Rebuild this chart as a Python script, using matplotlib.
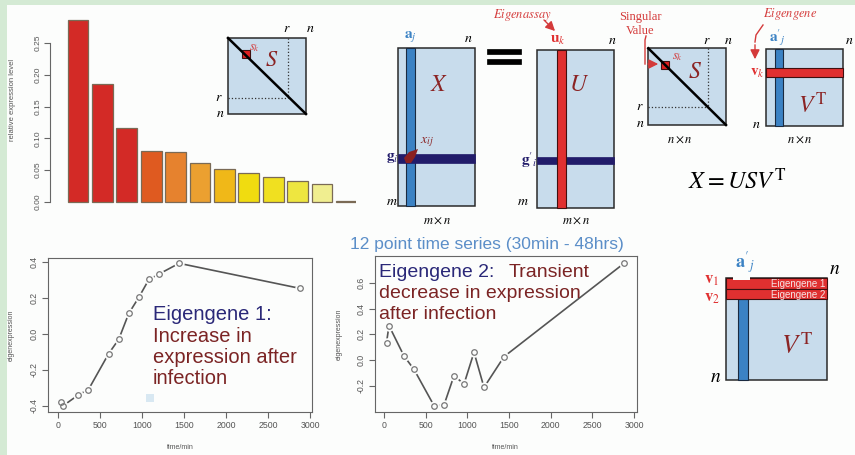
import matplotlib.pyplot as plt
from matplotlib.patches import Rectangle, Polygon

plt.rcParams['mathtext.fontset'] = 'stix'
plt.rcParams['font.family'] = ['Liberation Sans', 'DejaVu Sans']

# singular value spectrum (relative expression level of each eigengene)
bar_vals = [0.287, 0.185, 0.117, 0.080, 0.078, 0.061, 0.051, 0.046, 0.039, 0.033, 0.028, 0.001]
bar_colors = ['#d32a26', '#d32a26', '#d32a26', '#df5a20', '#e6822e', '#eba030',
              '#f0b818', '#f0dc10', '#f0e020', '#eee640', '#f0ee90', '#f4f0c0']
bar_ticks = [0.00, 0.05, 0.10, 0.15, 0.20, 0.25]

# 12 point time series, minutes
times = [30, 60, 240, 360, 600, 720, 840, 960, 1080, 1200, 1440, 2880]
eig1 = [-0.38, -0.40, -0.34, -0.31, -0.11, -0.03, 0.115, 0.205, 0.305, 0.335, 0.395, 0.255]
eig2 = [0.135, 0.267, 0.031, -0.073, -0.355, -0.350, -0.122, -0.187, 0.060, -0.213, 0.026, 0.752]
x_ticks = [0, 500, 1000, 1500, 2000, 2500, 3000]
y1_ticks = [-0.4, -0.2, 0.0, 0.2, 0.4]
y2_ticks = [-0.2, 0.0, 0.2, 0.4, 0.6]

W, H = 855, 455
BG = '#fcfdfc'
fig = plt.figure(figsize=(8.55, 4.55), dpi=100)
fig.patch.set_facecolor(BG)


def px_axes(x0, y0, x1, y1):
    return fig.add_axes([x0 / W, 1 - y1 / H, (x1 - x0) / W, (y1 - y0) / H])


GRAY = '#666666'
LBL = '#555555'

# ---- bar chart
ax0 = px_axes(50, 10, 356, 208)
ax0.patch.set_alpha(0)
ax0.bar(range(len(bar_vals)), bar_vals, width=0.85, color=bar_colors,
        edgecolor='#7a6a55', linewidth=0.9)
ax0.set_xlim(-1.148, 11.39)
ax0.set_ylim(-0.0099, 0.3024)
for s in ['top', 'right', 'bottom']:
    ax0.spines[s].set_visible(False)
ax0.spines['left'].set_bounds(0, 0.25)
ax0.spines['left'].set_color(GRAY)
ax0.set_xticks([])
ax0.set_yticks(bar_ticks)
ax0.set_yticklabels(['%.2f' % v for v in bar_ticks], rotation=90, va='center')
ax0.tick_params(axis='y', length=4, color=GRAY, labelcolor=LBL, labelsize=6, pad=2)
ax0.set_ylabel('relative expression level', fontsize=5.5, color=LBL)
ax0.yaxis.set_label_coords((16 - 50) / 306, 0.545)


def line_plot(ax, y, yt, xlim, ylim, box, yl_px):
    x0, y0, x1, y1 = box
    ax.patch.set_alpha(0)
    ax.plot(times, y, color='#555555', lw=1.2)
    ax.plot(times, y, 'o', ms=6.5, mfc=BG, mec=BG)
    ax.plot(times, y, 'o', ms=4, mfc='none', mec='#777777', mew=0.9)
    ax.set_xlim(*xlim)
    ax.set_ylim(*ylim)
    ax.set_xticks(x_ticks)
    ax.set_yticks(yt)
    ax.set_yticklabels(['%.1f' % v for v in yt], rotation=90, va='center')
    ax.tick_params(length=4, color=GRAY, labelcolor=LBL, labelsize=6.3, pad=3)
    for s in ax.spines.values():
        s.set_color(GRAY)
    ax.set_xlabel('time/min', fontsize=5, color=LBL)
    ax.xaxis.set_label_coords(0.5, (y1 - 444) / (y1 - y0))
    ax.set_ylabel('eigenexpression', fontsize=5, color=LBL)
    ax.yaxis.set_label_coords((yl_px - x0) / (x1 - x0), 0.5)


box1 = (48.3, 258.3, 311.7, 411.7)
ax1 = px_axes(*box1)
line_plot(ax1, eig1, y1_ticks, (-119, 3020), (-0.434, 0.423), box1, 15)
box2 = (375, 256, 636.7, 411.7)
ax2 = px_axes(*box2)
line_plot(ax2, eig2, y2_ticks, (-108, 3032), (-0.402, 0.809), box2, 343)

# ---- overlay for the SVD diagrams and annotations (pixel coordinates)
ov = fig.add_axes([0, 0, 1, 1])
ov.set_zorder(10)
ov.patch.set_alpha(0)
ov.set_xlim(0, W)
ov.set_ylim(H, 0)
ov.axis('off')

GREEN = '#d4ead4'
ov.add_patch(Rectangle((0, 0), 7, H, fc=GREEN, ec='none'))
ov.add_patch(Rectangle((0, 0), W, 4.5, fc=GREEN, ec='none'))

FILL = '#c8dcec'
EDGE = '#2a2a2a'
BLUE = '#3b82c4'
NAVY = '#221c6a'
RED = '#e03030'
DRED = '#8b2424'
TRED = '#d43a3a'


def rect(x0, y0, x1, y1, fc, ec=EDGE, lw=1.1):
    ov.add_patch(Rectangle((x0, y0), x1 - x0, y1 - y0, fc=fc, ec=ec, lw=lw))


def t(x, y, s, size=10, color='black', **kw):
    ov.text(x, y, s, fontsize=size, color=color, ha=kw.pop('ha', 'center'),
            va=kw.pop('va', 'center'), **kw)


def smat(x0, y0, x1, y1, rx, ry, sq):
    rect(x0, y0, x1, y1, FILL)
    ov.plot([rx, rx], [y0, ry], ':', color='#333333', lw=0.9)
    ov.plot([x0, rx], [ry, ry], ':', color='#333333', lw=0.9)
    ov.plot([x0, x1], [y0, y1], color='black', lw=1.8)
    rect(sq[0] - 4, sq[1] - 4, sq[0] + 4, sq[1] + 4, '#e02020', ec='#401010', lw=0.8)


# S inset over bar chart
smat(228, 38, 306, 114, 288, 98, (245.7, 54))
t(287, 28, '$r$', 10)
t(310, 28, '$n$', 10)
t(219, 97, '$r$', 10)
t(220, 113, '$n$', 10)
t(254, 48, '$s_k$', 9, TRED)
t(272, 60, '$S$', 16, DRED)

# X matrix
rect(398.3, 47.7, 475, 206, FILL)
rect(406, 47.7, 415, 206, BLUE, ec='#1a2a40', lw=0.8)
rect(398.3, 154.3, 475, 162.7, NAVY, ec=NAVY, lw=0.5)
ov.add_patch(Polygon([(406, 163), (404, 158), (409, 152), (418, 149), (415, 157), (411, 163)],
                     closed=True, fc='#8a2020', ec='none'))
t(410, 37, r'$\mathbf{a}_j$', 11, BLUE)
t(468, 38, '$n$', 10)
t(439, 85, '$X$', 17, DRED)
t(427, 142, '$x_{ij}$', 10, DRED)
t(392, 158, r'$\mathbf{g}_i$', 11, NAVY)
t(392, 201, '$m$', 10)
t(437, 221, r'$m\times n$', 9)

# equals sign
rect(486.7, 49, 521, 53.5, 'black', ec='black', lw=0.5)
rect(486.7, 59, 521, 63.5, 'black', ec='black', lw=0.5)

# U matrix
rect(537.3, 50, 614, 208, FILL)
rect(537.3, 157.3, 614, 164, NAVY, ec=NAVY, lw=0.5)
rect(557.3, 50, 565.7, 208, RED, ec='#401010', lw=0.8)
t(558, 40, r'$\mathbf{u}_k$', 11, RED)
t(612, 40, '$n$', 10)
t(579, 85, '$U$', 17, DRED)
t(529, 160, r"$\mathbf{g}'_i$", 11, NAVY)
t(523, 201, '$m$', 10)
t(576, 221, r'$m\times n$', 9)
t(522, 15, '$Eigenassay$', 9, TRED)
ov.annotate('', xy=(557, 33), xytext=(542, 18),
            arrowprops=dict(arrowstyle='-|>', color=TRED, lw=1, mutation_scale=14))

# S matrix
smat(648.3, 48.3, 726, 125, 707.7, 106.7, (665, 65))
t(640, 17, 'Singular', 9, TRED, family='Liberation Serif')
t(640, 31, 'Value', 9, TRED, family='Liberation Serif')
ov.plot([646, 645, 645], [36, 40, 64], color=TRED, lw=1)
ov.annotate('', xy=(661, 64), xytext=(645, 64),
            arrowprops=dict(arrowstyle='-|>', color=TRED, lw=1, mutation_scale=14))
t(707, 40, '$r$', 10)
t(728, 40, '$n$', 10)
t(640, 106, '$r$', 10)
t(640, 123, '$n$', 10)
t(677, 57, '$s_k$', 9, TRED)
t(695, 72, '$S$', 17, DRED)
t(680, 140, r'$n\times n$', 9)

# V^T matrix
rect(765.7, 49.3, 842.7, 126, FILL)
rect(775, 49.3, 782.7, 126, BLUE, ec='#1a2a40', lw=0.8)
rect(765.7, 68.3, 842.7, 76.7, RED, ec='#401010', lw=0.8)
t(777, 38, r"$\mathbf{a}'_j$", 11, BLUE)
t(849, 40, '$n$', 10)
t(757, 73, r'$\mathbf{v}_k$', 11, RED)
t(790, 14, '$Eigengene$', 9, TRED)
ov.plot([763, 756, 755], [25, 35, 42], color=TRED, lw=1)
ov.annotate('', xy=(755, 62), xytext=(755, 42),
            arrowprops=dict(arrowstyle='-|>', color=TRED, lw=1, mutation_scale=14))
t(812, 105, r'$V^{\mathrm{T}}$', 17, DRED)
t(756, 124, '$n$', 10)
t(800, 140, r'$n\times n$', 9)

t(737, 181, r'$X = USV^{\mathrm{T}}$', 17.5)

t(487, 244, '12 point time series (30min - 48hrs)', 12.5, '#5b8ec8')

# eigengene texts
EN = '#2a2878'
ER = '#7b2424'
ov.text(153, 320, 'Eigengene 1:', fontsize=14.5, color=EN, va='baseline')
for i, s in enumerate(['Increase in', 'expression after', 'infection']):
    ov.text(153, 341.5 + 21.5 * i, s, fontsize=14.5, color=ER, va='baseline')
ov.add_patch(Rectangle((146, 394), 8, 8, fc='#d8e8f2', ec='none'))

ov.text(379, 276.7, 'Eigengene 2:', fontsize=14, color=EN, va='baseline')
ov.text(509, 276.7, 'Transient', fontsize=14, color=ER, va='baseline')
ov.text(379, 298, 'decrease in expression', fontsize=14, color=ER, va='baseline')
ov.text(379, 319, 'after infection', fontsize=14, color=ER, va='baseline')

# bottom right V^T with eigengene rows
rect(726, 278.3, 827.3, 380, FILL)
rect(737.7, 299.3, 748.3, 380, BLUE, ec='#1a2a40', lw=0.8)
rect(726, 278.3, 827.3, 289.3, RED, ec='#401010', lw=0.8)
rect(726, 289.3, 827.3, 299.3, RED, ec='#401010', lw=0.8)
ov.add_patch(Rectangle((733, 276.5), 17, 3, fc=BG, ec='none'))
t(825, 284, 'Eigengene 1', 7, '#f4e4e4', ha='right')
t(825, 294.5, 'Eigengene 2', 7, '#f4e4e4', ha='right')
t(745, 263, r"$\mathbf{a}'_j$", 13, BLUE)
t(835, 270, '$n$', 14)
t(712, 281, r'$\mathbf{v}_1$', 12, RED)
t(712, 299, r'$\mathbf{v}_2$', 12, RED)
t(716, 377, '$n$', 14)
t(797, 346, r'$V^{\mathrm{T}}$', 19, DRED)

fig.savefig('out.png', dpi=100, facecolor=BG)
